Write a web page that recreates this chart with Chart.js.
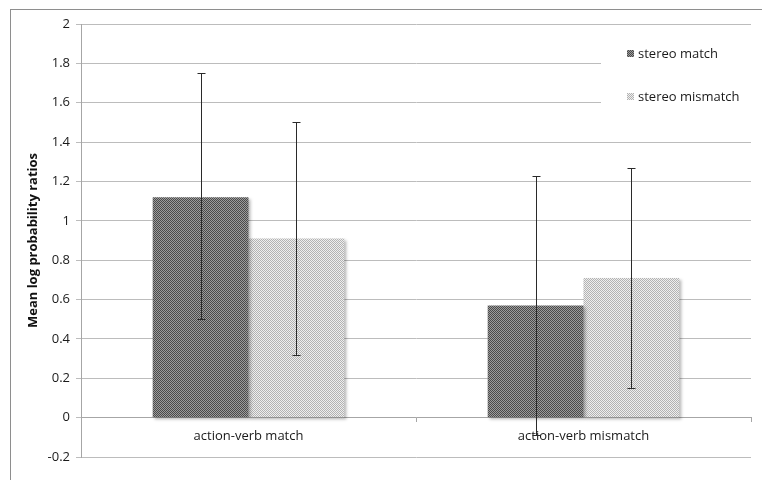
<!DOCTYPE html>
<html>
<head>
<meta charset="utf-8">
<style>
  html, body { margin: 0; padding: 0; background: #fff; }
</style>
<script src="https://cdn.jsdelivr.net/npm/chart.js@4.4.0/dist/chart.umd.min.js"></script>
</head>
<body>
<canvas id="myChart" width="762" height="480"></canvas>
<script>
'use strict';

const categories = ['action-verb match', 'action-verb mismatch'];
const seriesNames = ['stereo match', 'stereo mismatch'];
const stereoMatch = [1.12, 0.57];
const stereoMismatch = [0.91, 0.71];
const matchErrLow = [0.50, -0.09];
const matchErrHigh = [1.75, 1.23];
const mismatchErrLow = [0.32, 0.15];
const mismatchErrHigh = [1.50, 1.27];
const yTitle = 'Mean log probability ratios';

const canvas = document.getElementById('myChart');
const ctx = canvas.getContext('2d');
const fontFamily = '"Open Sans", "Noto Sans", sans-serif';

// excel style 1px checkerboard fills
function checker(a, b) {
  const c = document.createElement('canvas');
  c.width = 2; c.height = 2;
  const x = c.getContext('2d');
  x.fillStyle = a; x.fillRect(0, 0, 2, 2);
  x.fillStyle = b; x.fillRect(0, 0, 1, 1); x.fillRect(1, 1, 1, 1);
  return ctx.createPattern(c, 'repeat');
}
const darkFill = checker('#9c9c9c', '#4a4a4a');
const lightFill = checker('#eeeeee', '#b2b2b2');

const errors = [
  { low: matchErrLow, high: matchErrHigh },
  { low: mismatchErrLow, high: mismatchErrHigh }
];

const frame = {
  id: 'frame',
  beforeDraw(chart) {
    const c = chart.ctx;
    c.save();
    c.strokeStyle = '#8e8e8e';
    c.lineWidth = 1;
    c.strokeRect(10.5, 9.5, 800, 500);
    c.restore();
  }
};

const shadow = {
  id: 'shadow',
  beforeDatasetDraw(chart) {
    const c = chart.ctx;
    c.save();
    c.shadowColor = 'rgba(0,0,0,0.28)';
    c.shadowOffsetX = 2;
    c.shadowOffsetY = 2;
    c.shadowBlur = 3;
  },
  afterDatasetDraw(chart) {
    chart.ctx.restore();
  }
};

const errorBars = {
  id: 'errorBars',
  afterDatasetsDraw(chart) {
    const c = chart.ctx;
    const y = chart.scales.y;
    c.save();
    c.strokeStyle = '#2a2a2a';
    c.lineWidth = 1;
    chart.data.datasets.forEach((ds, i) => {
      const meta = chart.getDatasetMeta(i);
      meta.data.forEach((bar, j) => {
        const x = Math.round(bar.x) + 0.5;
        const top = Math.round(y.getPixelForValue(errors[i].high[j])) + 0.5;
        const bot = Math.round(y.getPixelForValue(errors[i].low[j])) + 0.5;
        c.beginPath();
        c.moveTo(x, top); c.lineTo(x, bot);
        c.moveTo(x - 4, top); c.lineTo(x + 4, top);
        c.moveTo(x - 4, bot); c.lineTo(x + 4, bot);
        c.stroke();
      });
    });
    c.restore();
  }
};

const insideLegend = {
  id: 'insideLegend',
  afterDraw(chart) {
    const c = chart.ctx;
    c.save();
    c.fillStyle = '#fff';
    c.fillRect(601, 30, 150, 98);
    c.font = '13px ' + fontFamily;
    c.textBaseline = 'middle';
    const fills = [darkFill, lightFill];
    seriesNames.forEach((name, i) => {
      const cy = 54 + i * 43;
      c.fillStyle = fills[i];
      c.fillRect(627, cy - 4, 7, 7);
      c.fillStyle = '#1a1a1a';
      c.fillText(name, 638, cy);
    });
    c.restore();
  }
};

const chart_config = {
  type: 'bar',
  data: {
    labels: categories,
    datasets: [
      { label: seriesNames[0], data: stereoMatch, backgroundColor: darkFill, borderWidth: 0 },
      { label: seriesNames[1], data: stereoMismatch, backgroundColor: lightFill, borderWidth: 0 }
    ]
  },
  options: {
    responsive: false,
    animation: false,
    devicePixelRatio: 1,
    barPercentage: 1,
    categoryPercentage: 0.572,
    layout: { padding: { left: 0, right: 11, top: 24, bottom: 23 } },
    plugins: {
      legend: { display: false },
      tooltip: { enabled: false }
    },
    scales: {
      x: {
        position: { y: 0 },
        offset: true,
        grid: { drawOnChartArea: false, drawTicks: true, tickLength: 4, color: '#a6a6a6', offset: true },
        border: { display: true, color: '#a6a6a6' },
        ticks: { padding: 7, color: '#1a1a1a', font: { family: fontFamily, size: 13 } }
      },
      y: {
        min: -0.2,
        max: 2,
        afterFit(scale) { scale.width = 81; },
        grid: { color: '#bcbcbc', tickLength: 5 },
        border: { display: true, color: '#a6a6a6' },
        ticks: {
          stepSize: 0.2,
          padding: 6,
          color: '#1a1a1a',
          font: { family: fontFamily, size: 13 },
          callback: v => String(Number(v.toFixed(1)))
        },
        title: {
          display: true,
          text: yTitle,
          color: '#111',
          font: { family: fontFamily, size: 13, weight: 'bold' },
          padding: { top: 25, bottom: 0 }
        }
      }
    }
  },
  plugins: [frame, shadow, errorBars, insideLegend]
};

const myChart = new Chart(ctx, chart_config);
</script>
</body>
</html>
